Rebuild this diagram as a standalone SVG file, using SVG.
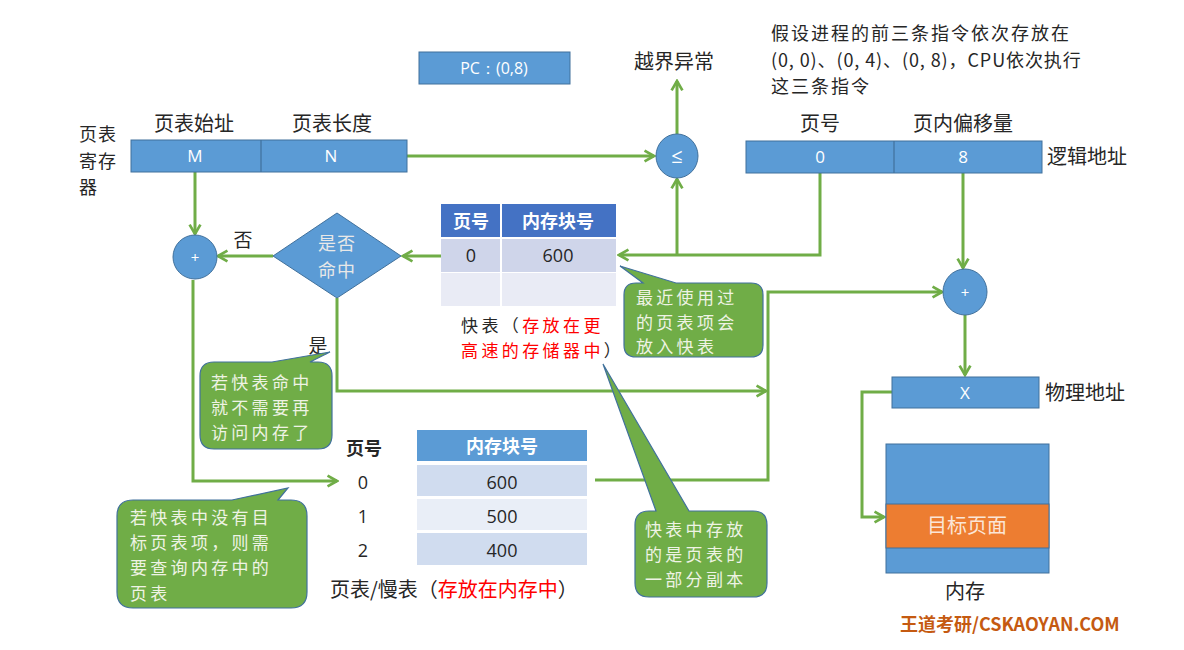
<svg xmlns="http://www.w3.org/2000/svg" width="1184" height="650" viewBox="0 0 1184 650">
<style>
.t{font-family:"Noto Sans CJK SC","Noto Sans",sans-serif;fill:#262626}
.n{font-family:"Open Sans","Noto Sans",sans-serif}
.w{fill:#ffffff}
.box{fill:#5B9BD5;stroke:#41719C;stroke-width:1}
.c{stroke:#70AD47;stroke-width:3;fill:none;marker-end:url(#arr)}
.call{fill:#70AD47;stroke:#41719C;stroke-width:1.2}
.ct{font-family:"Noto Sans CJK SC",sans-serif;fill:#EEF3E4;font-size:17px;letter-spacing:3.3px}
.red{fill:#FF0000}
</style>
<defs>
<marker id="arr" viewBox="0 0 10 10" refX="8.5" refY="5" markerWidth="4.5" markerHeight="4.5" orient="auto">
<path d="M1.5,1 L8.5,5 L1.5,9" fill="none" stroke="#70AD47" stroke-width="2"/>
</marker>
</defs>
<rect width="1184" height="650" fill="#ffffff"/>

<g id="connectors">
<path class="c" d="M407 156 L654 156"/>
<path class="c" d="M677 134 L677 81"/>
<path class="c" d="M820 172 L820 255 L619 255"/>
<path class="c" d="M677 255 L677 179"/>
<path class="c" d="M963 172 L963 268"/>
<path class="c" d="M965 315 L965 375"/>
<path class="c" d="M892 392 L862 392 L862 517 L884 517"/>
<path class="c" d="M195 172 L195 234"/>
<path class="c" d="M441 256 L403 256"/>
<path class="c" d="M273 256 L218 256"/>
<path class="c" d="M193 280 L193 481 L337 481"/>
<path class="c" d="M337 298 L337 391 L766 391"/>
<path class="c" d="M595 480 L768 480 L768 292 L942 292"/>
</g>

<g id="page-table-register">
<rect class="box" x="131" y="140" width="276" height="32"/>
<line x1="261" y1="140" x2="261" y2="172" stroke="#41719C" stroke-width="1.2"/>
<text class="n w" x="195" y="162" font-size="17" text-anchor="middle">M</text>
<text class="n w" x="331" y="162" font-size="17" text-anchor="middle">N</text>
<text class="t" x="194" y="131" font-size="20" text-anchor="middle">页表始址</text>
<text class="t" x="332" y="131" font-size="20" text-anchor="middle">页表长度</text>
<text class="t" font-size="18" letter-spacing="1"><tspan x="79" y="141">页表</tspan><tspan x="79" dy="26.5">寄存</tspan><tspan x="79" dy="26.5">器</tspan></text>
</g>

<g id="pc">
<rect class="box" x="419" y="52" width="151" height="32"/>
<text class="n w" x="494" y="74" font-size="16" text-anchor="middle">PC：(0,8)</text>
</g>

<g id="compare">
<ellipse class="box" cx="677" cy="156" rx="21" ry="22"/>
<text class="n w" x="677" y="163" font-size="20" text-anchor="middle">≤</text>
</g>
<g id="overflow">
<text class="t" x="674" y="69" font-size="20" text-anchor="middle">越界异常</text>
</g>

<g id="note-top">
<text class="t" font-size="18"><tspan x="771" y="40" letter-spacing="2">假设进程的前三条指令依次存放在</tspan><tspan x="771" dy="26.5" letter-spacing="0.9">(0, 0)、(0, 4)、(0, 8)，CPU依次执行</tspan><tspan x="771" dy="26.5" letter-spacing="2">这三条指令</tspan></text>
</g>

<g id="logical-address">
<rect class="box" x="746" y="141" width="296" height="32"/>
<line x1="894" y1="141" x2="894" y2="173" stroke="#41719C" stroke-width="1.2"/>
<text class="n w" x="820" y="163" font-size="17" text-anchor="middle">0</text>
<text class="n w" x="963" y="163" font-size="17" text-anchor="middle">8</text>
<text class="t" x="820" y="131" font-size="20" text-anchor="middle">页号</text>
<text class="t" x="963" y="131" font-size="20" text-anchor="middle">页内偏移量</text>
<text class="t" x="1047" y="164" font-size="20">逻辑地址</text>
</g>

<g id="tlb">
<rect x="441" y="204" width="175" height="33" fill="#4472C4"/>
<rect x="441" y="239" width="175" height="33" fill="#CFD5EA"/>
<rect x="441" y="273" width="175" height="33" fill="#E9EBF5"/>
<line x1="501" y1="204" x2="501" y2="306" stroke="#ffffff" stroke-width="2"/>
<text class="t w" x="471" y="228" font-size="18" font-weight="bold" text-anchor="middle">页号</text>
<text class="t w" x="558" y="228" font-size="18" font-weight="bold" text-anchor="middle">内存块号</text>
<text class="n" x="471" y="262" font-size="18" text-anchor="middle" fill="#262626">0</text>
<text class="n" x="558" y="262" font-size="18" text-anchor="middle" fill="#262626">600</text>
<text class="t" font-size="17" letter-spacing="3.4"><tspan x="461" y="332">快表（</tspan><tspan class="red">存放在更</tspan><tspan class="red" x="461" dy="25">高速的存储器中</tspan><tspan>）</tspan></text>
</g>

<g id="hit-decision">
<polygon class="box" points="337,213 401,256 337,298 273,256"/>
<text class="t" font-size="18" text-anchor="middle" letter-spacing="1" style="fill:#E8E8E8"><tspan x="337" y="250">是否</tspan><tspan x="337" dy="27">命中</tspan></text>
<text class="t" x="243" y="247" font-size="19" text-anchor="middle">否</text>
<text class="t" x="318" y="353" font-size="19" text-anchor="middle">是</text>
</g>

<g id="adder-left">
<circle class="box" cx="195" cy="257" r="22"/>
<text class="n w" x="195" y="263" font-size="15" text-anchor="middle">+</text>
</g>

<g id="adder-right">
<ellipse class="box" cx="965" cy="292" rx="22" ry="23"/>
<text class="n w" x="965" y="298" font-size="15" text-anchor="middle">+</text>
</g>

<g id="physical-address">
<rect class="box" x="892" y="377" width="147" height="31"/>
<text class="n w" x="965" y="399" font-size="17" text-anchor="middle">X</text>
<text class="t" x="1045" y="400" font-size="20">物理地址</text>
</g>

<g id="page-table">
<rect x="417" y="430" width="170" height="31" fill="#5B9BD5"/>
<rect x="417" y="465" width="170" height="31" fill="#D0DCEF"/>
<rect x="417" y="499" width="170" height="31" fill="#E9EEF7"/>
<rect x="417" y="533" width="170" height="32" fill="#D0DCEF"/>
<text class="t w" x="502" y="453" font-size="18" font-weight="bold" text-anchor="middle">内存块号</text>
<text class="t" x="364" y="455" font-size="18" font-weight="bold" text-anchor="middle">页号</text>
<text class="n" x="363" y="489" font-size="18" text-anchor="middle" fill="#262626">0</text>
<text class="n" x="363" y="523" font-size="18" text-anchor="middle" fill="#262626">1</text>
<text class="n" x="363" y="557" font-size="18" text-anchor="middle" fill="#262626">2</text>
<text class="n" x="502" y="489" font-size="18" text-anchor="middle" fill="#262626">600</text>
<text class="n" x="502" y="523" font-size="18" text-anchor="middle" fill="#262626">500</text>
<text class="n" x="502" y="557" font-size="18" text-anchor="middle" fill="#262626">400</text>
<text class="t" x="330" y="597" font-size="20">页表/慢表（<tspan class="red">存放在内存中</tspan>）</text>
</g>

<g id="memory">
<rect class="box" x="886" y="444" width="163" height="129"/>
<rect x="886" y="504" width="163" height="44" fill="#ED7D31" stroke="#41719C" stroke-width="1"/>
<text class="t" x="967" y="533" font-size="20" text-anchor="middle" style="fill:#FBE5D6">目标页面</text>
<text class="t" x="965" y="599" font-size="20" text-anchor="middle">内存</text>
</g>

<g id="callout-recent">
<path class="call" d="M636 283 L643 283 L620 266 L676 283 L751 283 Q763 283 763 295 L763 345 Q763 357 751 357 L636 357 Q624 357 624 345 L624 295 Q624 283 636 283 Z"/>
<text class="ct"><tspan x="636" y="304">最近使用过</tspan><tspan x="636" dy="24.7">的页表项会</tspan><tspan x="636" dy="24.7">放入快表</tspan></text>
</g>

<g id="callout-hit">
<path class="call" d="M214 362 L272 362 L330 352 L310 362 L318 362 Q332 362 332 376 L332 435 Q332 449 318 449 L214 449 Q200 449 200 435 L200 376 Q200 362 214 362 Z"/>
<text class="ct"><tspan x="211" y="389">若快表命中</tspan><tspan x="211" dy="25">就不需要再</tspan><tspan x="211" dy="25">访问内存了</tspan></text>
</g>

<g id="callout-miss">
<path class="call" d="M133 500 L232 500 L288 488 L278 500 L291 500 Q307 500 307 516 L307 592 Q307 608 291 608 L133 608 Q117 608 117 592 L117 516 Q117 500 133 500 Z"/>
<text class="ct"><tspan x="130" y="524">若快表中没有目</tspan><tspan x="130" dy="25.2">标页表项，则需</tspan><tspan x="130" dy="25.2">要查询内存中的</tspan><tspan x="130" dy="25.2">页表</tspan></text>
</g>

<g id="callout-copy">
<path class="call" d="M649 511 L656 511 L603 364 L689 511 L753 511 Q767 511 767 525 L767 583 Q767 597 753 597 L649 597 Q635 597 635 583 L635 525 Q635 511 649 511 Z"/>
<text class="ct"><tspan x="645" y="536">快表中存放</tspan><tspan x="645" dy="25.2">的是页表的</tspan><tspan x="645" dy="25.2">一部分副本</tspan></text>
</g>

<g id="footer">
<text x="900" y="631" font-family="Noto Sans CJK SC,sans-serif" font-size="18" font-weight="bold" fill="#C55A11">王道考研/CSKAOYAN.COM</text>
</g>
</svg>
